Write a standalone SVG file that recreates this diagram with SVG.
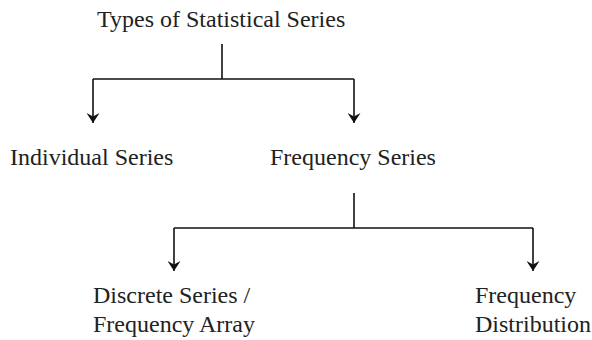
<svg xmlns="http://www.w3.org/2000/svg" width="592" height="340" viewBox="0 0 592 340">
<style>
text{font-family:"Liberation Serif","Times New Roman",serif;font-size:24px;fill:#222}
.c{fill:none;stroke:#111;stroke-width:1.6}
</style>
<defs>
<marker id="ah" viewBox="0 0 10 13" refX="10" refY="6.5" markerWidth="10" markerHeight="13" markerUnits="userSpaceOnUse" orient="auto">
<path d="M0,0 L3.5,6.5 L0,13 L10,6.5 Z" fill="#111"/>
</marker>
</defs>
<rect width="592" height="340" fill="#fff"/>
<g id="connectors">
<path class="c" d="M222,44 V79"/>
<path class="c" d="M93,79 H354"/>
<path class="c" d="M93,79 V123" marker-end="url(#ah)"/>
<path class="c" d="M354,79 V123" marker-end="url(#ah)"/>
<path class="c" d="M354,193 V228"/>
<path class="c" d="M174,228 H533"/>
<path class="c" d="M174,228 V271" marker-end="url(#ah)"/>
<path class="c" d="M533,228 V271" marker-end="url(#ah)"/>
</g>
<g id="root"><text x="97" y="27">Types of Statistical Series</text></g>
<g id="individual"><text x="10" y="165">Individual Series</text></g>
<g id="frequency"><text x="270" y="165">Frequency Series</text></g>
<g id="discrete"><text x="93" y="303">Discrete Series /</text><text x="93" y="332">Frequency Array</text></g>
<g id="distribution"><text x="475" y="303">Frequency</text><text x="475" y="332">Distribution</text></g>
</svg>
